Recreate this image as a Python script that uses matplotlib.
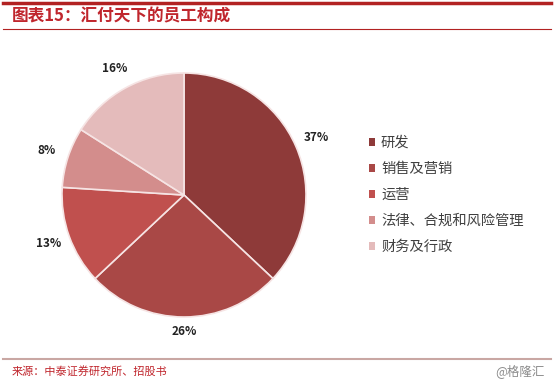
import matplotlib.pyplot as plt
from matplotlib.patches import Patch
from matplotlib.lines import Line2D

plt.rcParams['font.family'] = ['Noto Sans CJK SC', 'DejaVu Sans']

categories = ["研发", "销售及营销", "运营", "法律、合规和风险管理", "财务及行政"]
shares = [37, 26, 13, 8, 16]
colors = ["#8E3A39", "#A94846", "#C0504E", "#D38D8C", "#E4BBBB"]

title = "图表15：汇付天下的员工构成"
source = "来源：中泰证券研究所、招股书"
mark = "@格隆汇"

fig = plt.figure(figsize=(5.54, 3.88), dpi=100)
fig.patch.set_facecolor("white")

# pie axes, centred around (184,195) px, radius ~122 px
ax = fig.add_axes([62 / 554, (388 - 195 - 122) / 388, 244 / 554, 244 / 388])
wedges, texts, autotexts = ax.pie(
    shares, colors=colors, startangle=90, counterclock=False,
    autopct="%d%%", pctdistance=1.18,
    wedgeprops=dict(edgecolor="#F6E4E4", linewidth=1.2),
    textprops=dict(fontsize=8.5, fontweight="bold", color="#222222"),
)
autotexts[1].set_position((autotexts[1].get_position()[0] * 0.95,
                           autotexts[1].get_position()[1] * 0.95))
ax.set_xlim(-1, 1)
ax.set_ylim(-1, 1)
ax.set_aspect("equal")
ax.axis("off")

# legend
handles = [Patch(facecolor=c, edgecolor="none") for c in colors]
leg = fig.legend(handles, categories, loc="upper left",
                 bbox_to_anchor=(356 / 554, 1 - 123 / 388),
                 frameon=False, fontsize=10.3, handlelength=0.45, handleheight=0.45,
                 handletextpad=0.4, labelspacing=0.84)
for t in leg.get_texts():
    t.set_color("#404040")

# header lines and title
fig.add_artist(Line2D([0.005, 0.995], [1 - 3 / 388] * 2, color="#B22222", lw=2.5))
fig.add_artist(Line2D([0.005, 0.995], [1 - 29 / 388] * 2, color="#B22222", lw=0.8))
fig.text(12 / 554, 1 - 16 / 388, title, color="#C0262D", fontsize=12,
         fontweight="bold", va="center", ha="left")

# footer
fig.add_artist(Line2D([0.005, 0.995], [1 - 359 / 388] * 2, color="#C9A7A3", lw=1.5))
fig.text(12 / 554, 1 - 371 / 388, source, color="#C0262D", fontsize=8,
         va="center", ha="left")
fig.text(545 / 554, 1 - 371 / 388, mark, color="#8C8C8C", fontsize=9,
         va="center", ha="right")

fig.savefig("out.png", dpi=100)
